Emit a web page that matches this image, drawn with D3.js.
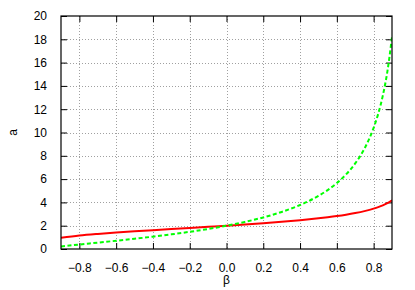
<!DOCTYPE html>
<html lang="en">
<meta charset="utf-8">
<style>
body { margin: 0; background: #fff; }
svg { font-family: "Liberation Sans", Arial, sans-serif; font-size: 12px; }
.grid line { stroke: #a0a0a0; stroke-dasharray: 1,2; shape-rendering: crispEdges; }
</style>
<body>
<script src="https://d3js.org/d3.v7.min.js"></script>
<script>
var w = 415, h = 290;
var margin = {left: 61, right: 23, top: 16, bottom: 41};

var beta = [-0.9, -0.8, -0.7, -0.6, -0.5, -0.4, -0.3, -0.2, -0.1, 0, 0.1, 0.2, 0.3, 0.4, 0.45, 0.5, 0.55, 0.6, 0.65, 0.7, 0.75, 0.8, 0.825, 0.85, 0.875, 0.9];
var redA = [0.958, 1.155, 1.296, 1.414, 1.52, 1.618, 1.713, 1.807, 1.902, 2, 2.103, 2.213, 2.335, 2.472, 2.548, 2.632, 2.725, 2.828, 2.947, 3.086, 3.253, 3.464, 3.594, 3.748, 3.936, 4.176];
var greenA = [0.22, 0.385, 0.545, 0.707, 0.877, 1.059, 1.257, 1.476, 1.721, 2, 2.325, 2.711, 3.182, 3.776, 4.138, 4.559, 5.057, 5.657, 6.399, 7.346, 8.607, 10.392, 11.606, 13.164, 15.246, 18.2];
var xTicks = [-0.8, -0.6, -0.4, -0.2, 0, 0.2, 0.4, 0.6, 0.8];
var yTicks = [0, 2, 4, 6, 8, 10, 12, 14, 16, 18, 20];

var iw = w - margin.left - margin.right, ih = h - margin.top - margin.bottom;

var x = d3.scaleLinear().domain([-0.9, 0.9]).range([0, iw]);
var y = d3.scaleLinear().domain([0, 20]).range([ih, 0]);

var svg = d3.select("body").append("svg").attr("width", w).attr("height", h);
var g = svg.append("g").attr("transform", "translate(" + margin.left + "," + margin.top + ")");

// grid
var grid = g.append("g").attr("class", "grid");
grid.selectAll(".vx").data(xTicks).enter().append("line")
  .attr("x1", function(d) { return Math.round(x(d)) + 0.5; })
  .attr("x2", function(d) { return Math.round(x(d)) + 0.5; })
  .attr("y1", 0).attr("y2", ih);
grid.selectAll(".hy").data(yTicks.slice(1, -1)).enter().append("line")
  .attr("y1", function(d) { return Math.round(y(d)) + 0.5; })
  .attr("y2", function(d) { return Math.round(y(d)) + 0.5; })
  .attr("x1", 0).attr("x2", iw);

// axes with inward ticks, mirrored
function styleAxis(sel) {
  sel.select(".domain").remove();
  sel.selectAll(".tick line").attr("stroke", "#000");
  sel.selectAll("text").attr("fill", "#000").style("font-size", "12px");
}
g.append("g").attr("transform", "translate(0," + ih + ")")
  .call(d3.axisBottom(x).tickValues(xTicks).tickSizeInner(-6).tickSizeOuter(0).tickPadding(14))
  .call(styleAxis);
g.append("g")
  .call(d3.axisTop(x).tickValues(xTicks).tickSizeInner(-6).tickSizeOuter(0).tickFormat(""))
  .call(styleAxis);
g.append("g")
  .call(d3.axisLeft(y).tickValues(yTicks).tickSizeInner(-6).tickSizeOuter(0).tickPadding(14))
  .call(styleAxis);
g.append("g").attr("transform", "translate(" + iw + ",0)")
  .call(d3.axisRight(y).tickValues(yTicks).tickSizeInner(-6).tickSizeOuter(0).tickFormat(""))
  .call(styleAxis);

// curves
var clip = svg.append("clipPath").attr("id", "clip").append("rect")
  .attr("width", iw).attr("height", ih);

var line = d3.line()
  .x(function(d) { return x(d[0]); })
  .y(function(d) { return y(d[1]); })
  .curve(d3.curveMonotoneX);

g.append("path").datum(d3.zip(beta, redA))
  .attr("clip-path", "url(#clip)")
  .attr("fill", "none").attr("stroke", "#ff0000").attr("stroke-width", 2)
  .attr("d", line);
g.append("path").datum(d3.zip(beta, greenA))
  .attr("clip-path", "url(#clip)")
  .attr("fill", "none").attr("stroke", "#00ff00").attr("stroke-width", 2)
  .attr("stroke-dasharray", "4,2.5")
  .attr("d", line);

// frame
g.append("rect").attr("width", iw).attr("height", ih)
  .attr("fill", "none").attr("stroke", "#000").attr("stroke-width", 1.2);

// axis labels
svg.append("text").attr("x", margin.left + x(0)).attr("y", 284)
  .attr("text-anchor", "middle").style("font-size", "12px").text("β");
svg.append("text").attr("transform", "translate(17," + (margin.top + ih / 2) + ") rotate(-90)")
  .attr("text-anchor", "middle").style("font-size", "12px").text("a");
</script>
</body>
</html>
